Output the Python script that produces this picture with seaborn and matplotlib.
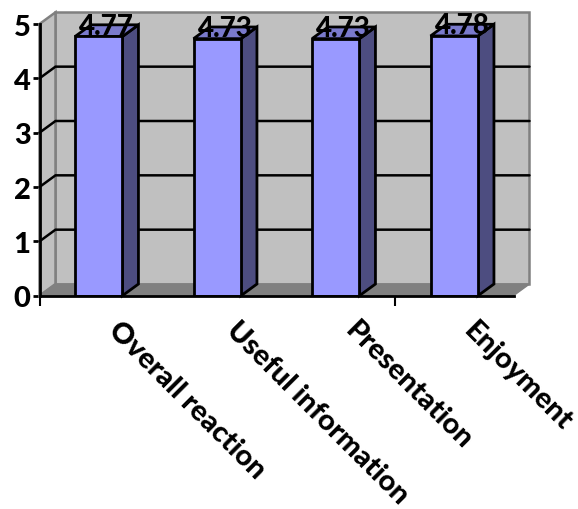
import matplotlib
matplotlib.use("Agg")
import matplotlib.pyplot as plt
from matplotlib.patches import Polygon
from matplotlib.transforms import ScaledTranslation
import pandas as pd
import seaborn as sns

categories = ["Overall reaction", "Useful information", "Presentation", "Enjoyment"]
scores = [4.77, 4.73, 4.73, 4.78]
y_ticks = [0, 1, 2, 3, 4, 5]

FRONT = "#9999FF"
SIDE = "#4D4D80"
TOP = "#7A7ACC"
WALL = "#C0C0C0"
FLOOR = "#808080"
BAR_WIDTH = 0.4
DEPTH_X = 0.135   # oblique depth in category units
DEPTH_Y = 0.215   # oblique depth in score units
WEIGHT = 900

sns.set_theme(style="white")
plt.rcParams["font.family"] = ["Lato", "DejaVu Sans"]

fig = plt.figure(figsize=(5.78, 5.10), dpi=100)
ax = fig.add_axes([39.5 / 578, (510 - 296.7) / 510, 474 / 578, 271.7 / 510])

frame = pd.DataFrame({"category": categories, "score": scores})
sns.barplot(data=frame, x="category", y="score", color=FRONT, saturation=1,
            width=BAR_WIDTH, edgecolor="black", linewidth=2, zorder=5, ax=ax)
ax.set_xlim(-0.5, 3.5)
ax.set_ylim(0, 5)
ax.set_xlabel("")
ax.set_ylabel("")


def poly(points, **kw):
    ax.add_patch(Polygon(points, closed=True, clip_on=False, **kw))


x0, x1 = -0.5, 3.5
ymax = y_ticks[-1]

# walls and floor of the oblique box
poly([(x0 + DEPTH_X, DEPTH_Y), (x1 + DEPTH_X, DEPTH_Y),
      (x1 + DEPTH_X, ymax + DEPTH_Y), (x0 + DEPTH_X, ymax + DEPTH_Y)],
     facecolor=WALL, edgecolor=FLOOR, linewidth=1.8, zorder=1)
poly([(x0, 0), (x0 + DEPTH_X, DEPTH_Y), (x0 + DEPTH_X, ymax + DEPTH_Y), (x0, ymax)],
     facecolor=WALL, edgecolor=FLOOR, linewidth=1.8, zorder=1)
poly([(x0, 0), (x1, 0), (x1 + DEPTH_X, DEPTH_Y), (x0 + DEPTH_X, DEPTH_Y)],
     facecolor=FLOOR, edgecolor=FLOOR, linewidth=1, zorder=1.5)

# gridlines folded along the side and back walls
for t in y_ticks[1:-1]:
    ax.plot([x0, x0 + DEPTH_X, x1 + DEPTH_X], [t, t + DEPTH_Y, t + DEPTH_Y],
            color="black", linewidth=1.8, clip_on=False, zorder=2,
            solid_joinstyle="miter")

# side and top faces of each bar
for i, v in enumerate(scores):
    left, right = i - BAR_WIDTH / 2, i + BAR_WIDTH / 2
    poly([(right, 0), (right + DEPTH_X, DEPTH_Y), (right + DEPTH_X, v + DEPTH_Y), (right, v)],
         facecolor=SIDE, edgecolor="black", linewidth=2, zorder=4, joinstyle="miter")
    poly([(left, v), (right, v), (right + DEPTH_X, v + DEPTH_Y), (left + DEPTH_X, v + DEPTH_Y)],
         facecolor=TOP, edgecolor="black", linewidth=2, zorder=4, joinstyle="miter")
    ax.text(i + DEPTH_X / 2, v + DEPTH_Y - 0.02, f"{v:.2f}", ha="center", va="center",
            fontsize=20, fontweight=WEIGHT, color="black", zorder=6, clip_on=False)

# axis lines and ticks
for side in ("top", "right"):
    ax.spines[side].set_visible(False)
for side in ("left", "bottom"):
    ax.spines[side].set_linewidth(2)
    ax.spines[side].set_color("black")
    ax.spines[side].set_zorder(7)

ax.set_yticks(y_ticks)
ax.tick_params(axis="y", which="major", left=True, length=5, width=2, color="black",
               pad=1.5, labelsize=21, labelcolor="black")
ax.set_xticks([-0.5, 2.5], minor=True)
ax.tick_params(axis="x", which="minor", bottom=True, length=7, width=1.5, color="black")
ax.set_xticks(range(len(categories)), categories)
ax.tick_params(axis="x", which="major", bottom=False, length=0, pad=15,
               labelsize=21, labelcolor="black")
for label in ax.get_yticklabels():
    label.set_fontweight(WEIGHT)
shift = ScaledTranslation(16.5 / 72, 0, fig.dpi_scale_trans)
for label in ax.get_xticklabels():
    label.set_fontweight(WEIGHT)
    label.set_rotation(-45)
    label.set_ha("left")
    label.set_va("top")
    label.set_rotation_mode("anchor")
    label.set_transform(label.get_transform() + shift)

fig.savefig("out.png", dpi=100, facecolor="white")
